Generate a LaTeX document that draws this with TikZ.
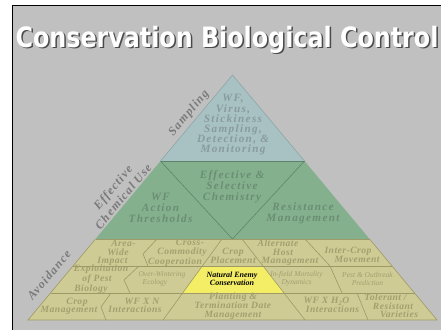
\documentclass[tikz,border=0pt]{standalone}
\usepackage{fontspec}
\setmainfont{Liberation Serif}
\newfontfamily\titlefont{DejaVu Sans}
\newfontfamily\lsTop{Liberation Serif}[LetterSpace=12]
\newfontfamily\lsBot{Liberation Serif}[LetterSpace=5]
\newfontfamily\lsSide{Liberation Serif}[LetterSpace=10]
\definecolor{bg}{HTML}{C0C0C0}
\definecolor{topfill}{HTML}{A8C1C2}
\definecolor{midfill}{HTML}{85B08E}
\definecolor{botfill}{HTML}{CFCB95}
\definecolor{yel}{HTML}{F4EE66}
\definecolor{toptext}{HTML}{889C9E}
\definecolor{midtext}{HTML}{698E73}
\definecolor{bottext}{HTML}{A3A06F}
\definecolor{sidetext}{HTML}{7A7A7A}
\definecolor{topline}{HTML}{8FA5A6}
\definecolor{midline}{HTML}{5F8568}
\definecolor{botline}{HTML}{9E9A66}
\definecolor{shadowc}{HTML}{4A4A4A}
\tikzset{
  titletxt/.style={font=\titlefont\bfseries\fontsize{28}{30}\selectfont, text=white, inner sep=0, anchor=base},
  titleshadow/.style={titletxt, text=shadowc},
  toptxt/.style={font=\lsTop\bfseries\itshape\fontsize{11.2}{10.2}\selectfont, text=toptext, align=center, inner sep=0},
  midtxt/.style={font=\lsTop\bfseries\itshape\fontsize{11.2}{11}\selectfont, text=midtext, align=center, inner sep=0},
  bottxt/.style={font=\lsBot\bfseries\itshape\fontsize{9.6}{8.6}\selectfont, text=bottext, align=center, inner sep=0},
  smalltxt/.style={font=\itshape\fontsize{7.5}{8}\selectfont, text=bottext, align=center, inner sep=0},
  yeltxt/.style={font=\bfseries\itshape\fontsize{8}{8}\selectfont, text=black, align=center, inner sep=0},
  sidetxt/.style={font=\lsSide\bfseries\itshape\fontsize{12}{13.5}\selectfont, text=sidetext, align=center, inner sep=0, rotate=50},
  divider/.style={draw=botline, line width=0.6pt, line join=round},
}
\begin{document}
\begin{tikzpicture}[x=1pt,y=-1pt]
\useasboundingbox (0,0) rectangle (441,330);
\fill[white] (0,0) rectangle (441,330);
\fill[bg] (12,5) rectangle (441,330);
\draw[black, line width=1pt] (12,330) -- (12,5) -- (441,5);
% title
\node[titleshadow] (titleS) at (228.5,48.5) {\scalebox{0.85}[1]{Conservation Biological Control}};
\node[titletxt] (title) at (227,47) {\scalebox{0.85}[1]{Conservation Biological Control}};
% pyramid bands
\fill[topfill] (232.5,75) -- (304.5,161) -- (160.5,161) -- cycle;
\fill[midfill] (160.5,161) -- (304.5,161) -- (369.5,239) -- (95.5,239) -- cycle;
\fill[botfill] (95.5,239) -- (369.5,239) -- (437,320) -- (28,320) -- cycle;
\fill[yel] (202,266) -- (263,266) -- (284,293) -- (183,293) -- cycle;
% outlines
\draw[topline, line width=0.6pt] (160.5,161) -- (232.5,75) -- (304.5,161);
\draw[midline, line width=0.6pt] (160.5,161) -- (304.5,161);
\draw[midline, line width=0.6pt] (160.5,161) -- (232.5,239) -- (304.5,161);
\draw[botline, line width=0.6pt] (95.5,239) -- (369.5,239);
\draw[botline, line width=0.6pt] (95.5,239) -- (28,320) -- (437,320) -- (369.5,239);
% bottom band grid
\draw[divider] (73,266) -- (392,266);
\draw[divider] (50.5,293) -- (414.5,293);
\draw[divider] (222,239) -- (163,320);
\draw[divider] (242,239) -- (305,320);
\draw[divider] (157,239) -- (143,254) -- (148,266);
\draw[divider] (139,266) -- (124,280) -- (130,293);
\draw[divider] (111,293) -- (101,307) -- (106,320);
\draw[divider] (305,239) -- (330,266) -- (342,293);
\draw[divider] (357,293) -- (368,320);
% side labels
\node[sidetxt] (sampling) at (189,113) {Sampling};
\node[sidetxt] (chem) at (118,192) {Effective\\Chemical Use};
\node[sidetxt] (avoid) at (49,275) {Avoidance};
% top
\node[toptxt] (wfvirus) at (233,125) {WF,\\Virus,\\Stickiness\\Sampling,\\Detection, \&\\Monitoring};
% middle
\node[midtxt] (thresh) at (160.5,208) {WF\\Action\\Thresholds};
\node[midtxt] (chemistry) at (232,186.5) {Effective \&\\Selective\\Chemistry};
\node[midtxt] (resist) at (303,213) {Resistance\\Management};
% row 1
\node[bottxt] (area) at (118,253) {\hspace*{11pt}Area-\\Wide\\Impact\hspace*{11pt}};
\node[bottxt] (cross) at (182,253) {\hspace*{16pt}Cross-\\Commodity\\Cooperation\hspace*{14pt}};
\node[bottxt] (cropplace) at (233,256) {Crop\\Placement};
\node[bottxt] (althost) at (283,253) {Alternate\hspace*{10pt}\\Host\\\hspace*{14pt}Management};
\node[bottxt] (intercrop) at (352.5,255) {Inter-Crop\hspace*{9pt}\\\hspace*{9pt}Movement};
% row 2
\node[bottxt] (exploit) at (97,279) {\hspace*{8pt}Exploitation\\of Pest\\Biology\hspace*{12pt}};
\node[smalltxt] (overwinter) at (158.5,279) {\hspace*{7pt}Over-Wintering\\Ecology\hspace*{7pt}};
\node[yeltxt] (natenemy) at (232,279) {Natural Enemy\\Conservation};
\node[smalltxt] (infield) at (296.5,279) {In-field Mortality\\Dynamics};
\node[smalltxt] (pest) at (367.5,279) {Pest \& Outbreak\\Prediction};
% row 3
\node[bottxt] (cropman) at (73,306.5) {\hspace*{8pt}Crop\\Management\hspace*{8pt}};
\node[bottxt] (wfxn) at (138.5,305.5) {\hspace*{7pt}WF X N\\Interactions\hspace*{7pt}};
\node[bottxt] (planting) at (233,306) {Planting \&\\Termination Date\\Management};
\node[bottxt] (wfxh) at (329.5,305) {WF X H\textsubscript{2}O\hspace*{6pt}\\\hspace*{6pt}Interactions};
\node[bottxt] (tolerant) at (393,306) {Tolerant /\hspace*{15pt}\\Resistant\\\hspace*{12pt}Varieties};
\end{tikzpicture}
\end{document}
